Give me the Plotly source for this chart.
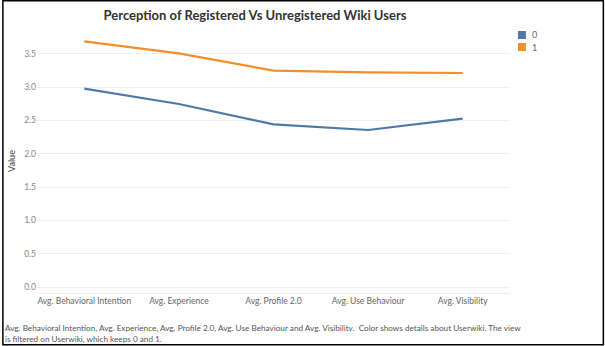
import plotly.graph_objects as go

categories = ["Avg. Behavioral Intention", "Avg. Experience", "Avg. Profile 2.0",
              "Avg. Use Behaviour", "Avg. Visibility"]
series_0 = [2.975, 2.745, 2.44, 2.355, 2.525]
series_1 = [3.685, 3.505, 3.245, 3.22, 3.21]
y_ticks = [0.0, 0.5, 1.0, 1.5, 2.0, 2.5, 3.0, 3.5]
y_tick_labels = ["0.0", "0.5", "1.0", "1.5", "2.0", "2.5", "3.0", "3.5"]
legend_names = ["0", "1"]
colors = ["#4e79a7", "#f28e2b"]

W, H = 605, 346
L, R, T, B = 35, 95, 29, 53
pw, ph = W - L - R, H - T - B

def px(x):
    return (x - L) / pw

def py(y):
    return (H - B - y) / ph

FONT = "Lato"

fig = go.Figure()
for name, vals, c in zip(legend_names, [series_0, series_1], colors):
    fig.add_trace(go.Scatter(x=categories, y=vals, mode="lines", name=name,
                             line=dict(color=c, width=2.2), showlegend=False,
                             hoverinfo="x+y"))

fig.update_layout(
    width=W, height=H,
    margin=dict(l=L, r=R, t=T, b=B),
    paper_bgcolor="white", plot_bgcolor="white",
    font=dict(family=FONT, size=9, color="#777"),
    title=dict(text="<b>Perception of Registered Vs Unregistered Wiki Users</b>",
               x=(255) / W, xref="paper", xanchor="center", y=1 - 15 / H, yanchor="middle",
               font=dict(family=FONT, size=13, color="#333")),
    xaxis=dict(showgrid=False, showline=True, linecolor="#eeeeee", linewidth=1,
               ticks="", tickfont=dict(size=8.5, color="#666"),
               range=[-0.5, 4.5], fixedrange=True),
    yaxis=dict(range=[-0.09, 3.87], tickvals=y_ticks, ticktext=y_tick_labels,
               showgrid=True, gridcolor="#f0f0f0", gridwidth=1, zeroline=False,
               showline=False, ticks="", tickfont=dict(size=8.5, color="#888"),
               title=dict(text="Value", font=dict(size=9, color="#444"), standoff=6)),
    showlegend=False,
)
# fix title x to paper-based (container default) position
fig.layout.title.xref = "container"

# legend (manual)
for i, (name, c) in enumerate(zip(legend_names, colors)):
    top = 31 + 12 * i
    fig.add_shape(type="rect", xref="paper", yref="paper",
                  x0=px(518), x1=px(526), y0=py(top + 8), y1=py(top),
                  line=dict(width=0), fillcolor=c)
    fig.add_annotation(text=name, xref="paper", yref="paper", x=px(530), y=py(top + 4),
                       xanchor="left", yanchor="middle", showarrow=False,
                       font=dict(family=FONT, size=9, color="#666"))

caption = ("Avg. Behavioral Intention, Avg. Experience, Avg. Profile 2.0, Avg. Use Behaviour and Avg. Visibility.  "
           "Color shows details about Userwiki. The view<br>is filtered on Userwiki, which keeps 0 and 1.")
fig.add_annotation(text=caption, xref="paper", yref="paper", x=px(1), y=py(321),
                   xanchor="left", yanchor="top", showarrow=False, align="left",
                   font=dict(family=FONT, size=8.2, color="#555"))

fig.add_shape(type="rect", xref="paper", yref="paper",
              x0=px(0.75), x1=px(603.75), y0=py(344.75), y1=py(0.75),
              line=dict(color="black", width=1.5), fillcolor="rgba(0,0,0,0)")

fig.write_html("out.html", config={"displayModeBar": False})
